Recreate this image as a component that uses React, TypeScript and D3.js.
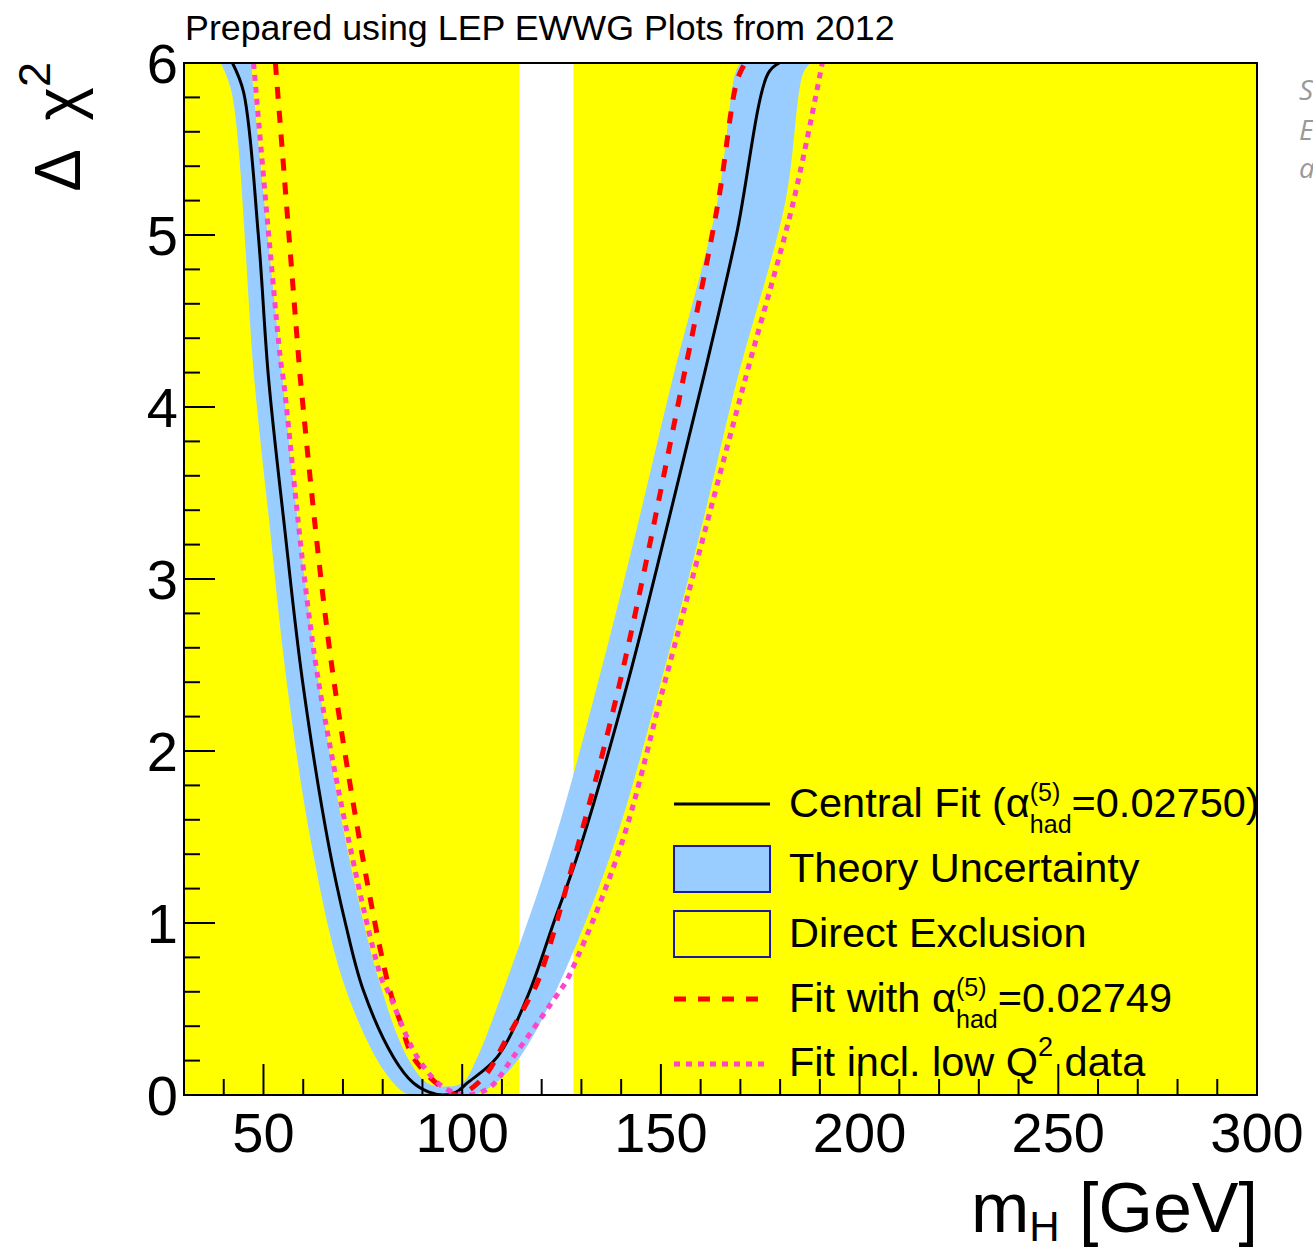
import React from 'react';
import * as d3 from 'd3';

// ---- data ----
const xMajorTicks = [50, 100, 150, 200, 250, 300];
const yMajorTicks = [0, 1, 2, 3, 4, 5, 6];
const exclusionGap = [114.4, 128.0]; // mH range not excluded (white)

// central fit (alpha_had = 0.02750)
const centralM = [42.2, 45.0, 48.7, 51.3, 55.3, 59.8, 66.5, 70.6, 75.1, 82.7, 87.7, 91.5, 95.3, 98.5, 101.3, 108.8, 116.4, 123.0, 129.7, 141.8, 151.5, 160.6, 169.0, 177.0, 179.8];
const centralChi2 = [6.0, 5.83, 5.0, 4.16, 3.3, 2.41, 1.44, 1.0, 0.61, 0.22, 0.07, 0.018, 0.0, 0.017, 0.07, 0.22, 0.57, 1.0, 1.44, 2.41, 3.3, 4.16, 5.0, 5.94, 6.0];

// theory uncertainty band: outer (lower) edge and inner (upper) edge
const bandOuterM = [39.2, 41.9, 47.7, 51.6, 55.8, 62.2, 69.9, 78.2, 82.7, 85.0, 87.0, 102.1, 105.0, 108.5, 114.5, 123.7, 138.0, 150.1, 160.2, 169.2, 181.3, 185.8, 187.6];
const bandOuterChi2 = [6.0, 5.84, 4.16, 3.3, 2.41, 1.44, 0.67, 0.22, 0.07, 0.02, 0.0, 0.0, 0.02, 0.07, 0.22, 0.61, 1.44, 2.41, 3.3, 4.16, 5.19, 5.94, 6.0];
const bandInnerM = [47.0, 47.5, 54.8, 58.8, 63.8, 71.0, 79.4, 86.2, 91.2, 95.3, 100.0, 103.8, 110.8, 122.7, 134.3, 144.0, 152.9, 164.2, 168.7, 170.0];
const bandInnerChi2 = [6.0, 5.84, 4.16, 3.3, 2.41, 1.44, 0.64, 0.22, 0.07, 0.05, 0.07, 0.22, 0.64, 1.44, 2.41, 3.3, 4.16, 5.19, 5.94, 6.0];

// fit with alpha_had = 0.02749 (red dashed)
const alphaFitM = [53.0, 58.9, 59.3, 67.7, 81.1, 84.5, 87.7, 94.5, 98.8, 105.3, 111.0, 116.6, 119.2, 129.0, 139.8, 155.6, 164.4, 169.2, 171.2];
const alphaFitChi2 = [6.0, 4.27, 4.16, 2.41, 0.67, 0.42, 0.22, 0.05, 0.0, 0.1, 0.32, 0.55, 0.67, 1.44, 2.41, 4.16, 5.19, 5.9, 6.0];

// fit incl. low Q^2 data (pink dotted)
const lowQ2M = [47.5, 54.3, 55.0, 63.8, 79.8, 81.2, 88.7, 95.3, 101.3, 107.0, 112.8, 124.7, 126.4, 139.8, 151.1, 171.2, 183.3, 190.6];
const lowQ2Chi2 = [6.0, 4.27, 4.16, 2.41, 0.67, 0.61, 0.22, 0.045, 0.0, 0.045, 0.22, 0.61, 0.67, 1.44, 2.41, 4.16, 5.19, 6.0];

const YELLOW = '#ffff00';
const BLUE = '#99ccff';
const RED = '#ff0000';
const PINK = '#ff44cc';
const NAVY = '#1a1a9a';
const FONT = "'Liberation Sans', Arial, Helvetica, sans-serif";

export default function App() {
  const W = 1313, H = 1250;
  const L = 184, R = 1257, T = 63, B = 1095;
  const x = d3.scaleLinear().domain([30, 300]).range([L, R]);
  const y = d3.scaleLinear().domain([0, 6]).range([B, T]);

  const zip = (a: number[], b: number[]) => a.map((v, i) => [v, b[i]] as [number, number]);
  const line = d3.line<[number, number]>()
    .x(d => x(d[0]))
    .y(d => y(d[1]))
    .curve(d3.curveCatmullRom.alpha(0.5));

  const outerPath = line(zip(bandOuterM, bandOuterChi2)) || '';
  const innerPath = (line(zip(bandInnerM, bandInnerChi2).reverse()) || '').replace(/^M/, 'L');
  const bandPath = outerPath + innerPath + 'Z';

  const xMinor = d3.range(40, 300, 10).filter(v => v % 50 !== 0);
  const yMinor = d3.range(1, 30).map(i => i * 0.2).filter((v, i) => (i + 1) % 5 !== 0);

  const rows = [804, 869, 934, 999, 1064];
  const lx0 = 674, lx1 = 770, tx = 789, fs = 41.5;
  const sfs = 25;

  return (
    <svg width={W} height={H} style={{ position: 'absolute', left: 0, top: 0, background: '#fff' }} fontFamily={FONT}>
      <defs>
        <clipPath id="plotClip">
          <rect x={L} y={T} width={R - L} height={B - T} />
        </clipPath>
      </defs>

      {/* title */}
      <text x={185} y={40} fontSize={35.8} fill="#000">Prepared using LEP EWWG Plots from 2012</text>

      {/* direct exclusion background */}
      <rect x={L} y={T} width={R - L} height={B - T} fill={YELLOW} />
      <rect x={x(exclusionGap[0])} y={T} width={x(exclusionGap[1]) - x(exclusionGap[0])} height={B - T} fill="#fff" />

      <g clipPath="url(#plotClip)">
        <path d={bandPath} fill={BLUE} stroke="none" />
        <path d={line(zip(centralM, centralChi2)) || ''} fill="none" stroke="#000" strokeWidth={3} />
        <path d={line(zip(alphaFitM, alphaFitChi2)) || ''} fill="none" stroke={RED} strokeWidth={5} strokeDasharray="12,12" />
        <path d={line(zip(lowQ2M, lowQ2Chi2)) || ''} fill="none" stroke={PINK} strokeWidth={5} strokeDasharray="6,6" />
      </g>

      {/* legend */}
      <g fontSize={fs} fill="#000">
        <line x1={lx0} x2={lx1} y1={rows[0]} y2={rows[0]} stroke="#000" strokeWidth={3} />
        <text x={tx} y={rows[0] + 13}>Central Fit (α<tspan dy={-16} fontSize={sfs}>(5)</tspan><tspan dx={-30.5} dy={32} fontSize={sfs}>had</tspan><tspan dy={-16}>=0.02750)</tspan></text>

        <rect x={lx0} y={rows[1] - 23} width={lx1 - lx0} height={46} fill={BLUE} stroke={NAVY} strokeWidth={2} />
        <text x={tx} y={rows[1] + 13}>Theory Uncertainty</text>

        <rect x={lx0} y={rows[2] - 23} width={lx1 - lx0} height={46} fill={YELLOW} stroke={NAVY} strokeWidth={2} />
        <text x={tx} y={rows[2] + 13}>Direct Exclusion</text>

        <line x1={lx0} x2={lx1} y1={rows[3]} y2={rows[3]} stroke={RED} strokeWidth={5} strokeDasharray="12,12" />
        <text x={tx} y={rows[3] + 13}>Fit with α<tspan dy={-16} fontSize={sfs}>(5)</tspan><tspan dx={-30.5} dy={32} fontSize={sfs}>had</tspan><tspan dy={-16}>=0.02749</tspan></text>

        <line x1={lx0} x2={lx1} y1={rows[4]} y2={rows[4]} stroke={PINK} strokeWidth={5} strokeDasharray="6,6" />
        <text x={tx} y={rows[4] + 12}>Fit incl. low Q<tspan dy={-20} fontSize={27}>2</tspan><tspan dy={20}> data</tspan></text>
      </g>

      {/* ticks */}
      <g stroke="#000" strokeWidth={2}>
        {yMajorTicks.map(v => <line key={'ym' + v} x1={L} x2={L + 31} y1={y(v)} y2={y(v)} />)}
        {yMinor.map(v => <line key={'yn' + v} x1={L} x2={L + 16} y1={y(v)} y2={y(v)} />)}
        {xMajorTicks.map(v => <line key={'xm' + v} x1={x(v)} x2={x(v)} y1={B} y2={B - 31} />)}
        {xMinor.map(v => <line key={'xn' + v} x1={x(v)} x2={x(v)} y1={B} y2={B - 16} />)}
      </g>
      <rect x={L} y={T} width={R - L} height={B - T} fill="none" stroke="#000" strokeWidth={2} />

      {/* tick labels */}
      <g fontSize={56} fill="#000">
        {yMajorTicks.map(v => <text key={'yl' + v} x={178} y={y(v) + 20} textAnchor="end">{v}</text>)}
        {xMajorTicks.map(v => <text key={'xl' + v} x={x(v)} y={1152} textAnchor="middle">{v}</text>)}
      </g>

      {/* axis titles */}
      <text x={1258} y={1232} fontSize={70} textAnchor="end" fill="#000">m<tspan dy={9} fontSize={42}>H</tspan><tspan dy={-9}> [GeV]</tspan></text>
      <text transform="translate(80,62) rotate(-90)" fontSize={64} textAnchor="end" fill="#000">Δ<tspan dx={14}> χ</tspan><tspan dy={-30} fontSize={45}>2</tspan></text>

      {/* cut-off caption at the right edge */}
      <g fontSize={28} fill="#999" fontStyle="italic" fontFamily="'Open Sans', sans-serif">
        <text x={1299} y={100}>S</text>
        <text x={1299} y={140}>E</text>
        <text x={1299} y={178}>a</text>
      </g>
    </svg>
  );
}
